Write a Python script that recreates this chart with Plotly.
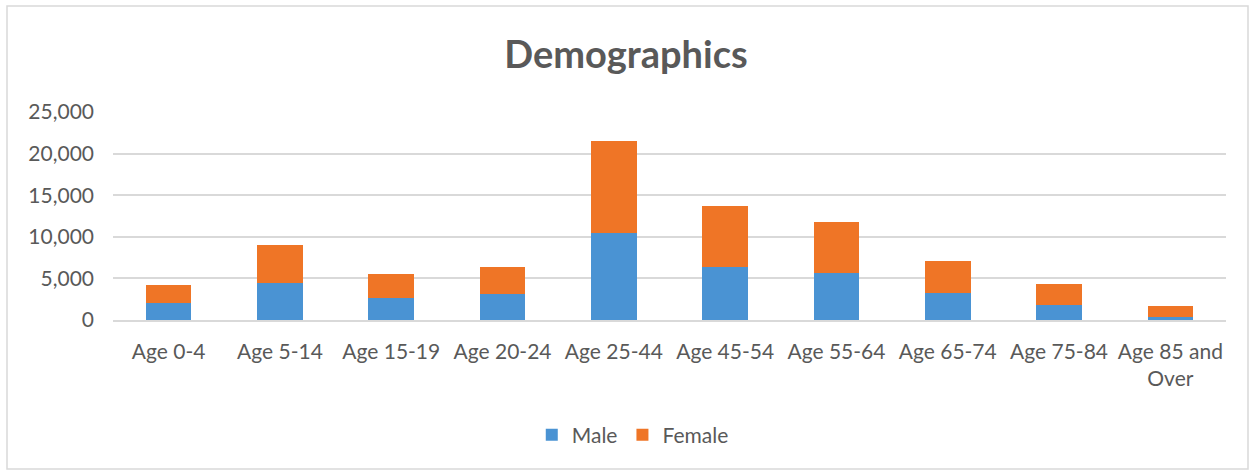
import plotly.graph_objects as go

age_groups = ["Age 0-4", "Age 5-14", "Age 15-19", "Age 20-24", "Age 25-44",
              "Age 45-54", "Age 55-64", "Age 65-74", "Age 75-84", "Age 85 and<br>Over"]
male = [2000, 4450, 2650, 3100, 10400, 6350, 5650, 3250, 1800, 350]
female = [2200, 4550, 2900, 3300, 11100, 7350, 6150, 3850, 2550, 1350]

GREY = "#595959"
FONT = "Lato, 'Open Sans', sans-serif"

fig = go.Figure()
fig.add_trace(go.Bar(name="Male", x=age_groups, y=male,
                     marker=dict(color="#4A93D3", line=dict(width=0))))
fig.add_trace(go.Bar(name="Female", x=age_groups, y=female,
                     marker=dict(color="#EF7526", line=dict(width=0))))

fig.update_layout(
    barmode="stack",
    bargap=0.59,
    width=1252, height=470,
    margin=dict(l=113, r=26, t=112, b=150),
    paper_bgcolor="white", plot_bgcolor="white",
    font=dict(family=FONT, color=GREY, size=21),
    title=dict(text="<b>Demographics</b>", x=0.5, xanchor="center",
               y=1 - 55 / 470, yanchor="middle", font=dict(size=38, color=GREY)),
    legend=dict(orientation="h", x=0.467, xanchor="center", y=-0.553, yanchor="middle",
                font=dict(size=21, color=GREY), traceorder="normal", itemwidth=30),
    showlegend=True,
)
fig.update_yaxes(range=[0, 25000], dtick=5000, tickformat=",", showgrid=True,
                 gridcolor="#D9D9D9", gridwidth=1.5, zeroline=False,
                 showline=False, ticks="", ticklabelstandoff=18)
fig.update_xaxes(showline=True, linecolor="#D9D9D9", linewidth=1.5, ticks="",
                 ticklabelstandoff=12, tickangle=0)

# light outer frame like the original chart area
fig.add_shape(type="rect", xref="paper", yref="paper",
              x0=-106 / 1113, x1=1 + 22 / 1113, y0=-149 / 208, y1=1 + 106 / 208,
              line=dict(color="#D9D9D9", width=1.5), fillcolor="rgba(0,0,0,0)")

fig.write_html("out.html", config={"displayModeBar": False},
               post_script="document.body.style.margin='0';")
